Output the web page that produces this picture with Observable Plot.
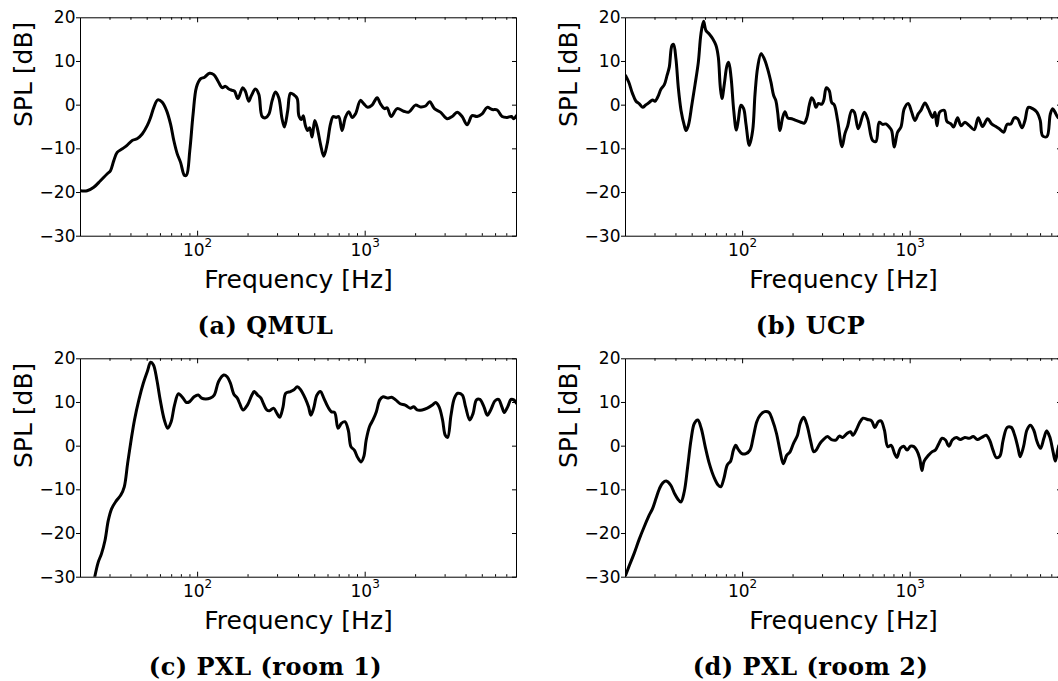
<!DOCTYPE html>
<html><head><meta charset="utf-8">
<script src="https://cdn.jsdelivr.net/npm/d3@7"></script>
<script src="https://cdn.jsdelivr.net/npm/@observablehq/plot@0.6"></script>
<style>
html,body{margin:0;padding:0;background:#fff;overflow:hidden;}
#root{position:relative;width:1058px;height:681px;overflow:hidden;background:#fff;}
.panel{position:absolute;width:530px;height:341px;}
.panel svg{max-width:none !important;width:530px;height:341px;display:block;}
</style></head><body><div id="root"></div>
<script>
// Frequency [Hz], SPL [dB]
const qmulResponse = [[20,-19.6],[21.9,-19.6],[24,-18.8],[26.3,-17.3],[28.9,-15.7],[30.2,-15.0],[31.6,-12.7],[33.1,-10.8],[35.5,-10.0],[37.9,-9.2],[40.7,-8.1],[43.5,-7.7],[46.7,-6.6],[50,-4.7],[52.4,-2.8],[54.8,-0.5],[57.8,1.2],[61.4,0.7],[65.2,-1.2],[68.9,-4.3],[72.1,-8.1],[75.5,-11.1],[79.1,-13.1],[83.5,-16.1],[85.9,-16.0],[89.8,-10.4],[94,-2.0],[98.4,4.1],[104,6.0],[110,6.4],[117.7,7.3],[124.8,7.0],[131.9,5.6],[140,4.0],[146.6,4.3],[153.5,3.7],[160.7,3.4],[166,3.2],[173.8,1.5],[185.9,4.0],[192.7,3.2],[201.9,0.9],[209.4,2.2],[221.4,3.7],[231.8,2.5],[242.7,-2.6],[254.3,-2.9],[266,-2.1],[278.6,1.1],[291.7,3.0],[305,1.7],[319,-3.1],[329.7,-5.0],[345,-1.2],[358,2.7],[375,2.4],[393,1.5],[402,-2.4],[417,-3.3],[427,-2.4],[440,-4.7],[454,-5.8],[467,-5.2],[482,-7.3],[500,-3.5],[516,-5.0],[541,-8.9],[566,-11.7],[593,-8.9],[621,-4.3],[644,-2.6],[671,-2.8],[695,-2.6],[728,-5.8],[762,-2.8],[798,-1.5],[836,-2.8],[875,-2.0],[937,1.1],[982,0.3],[1036,-0.5],[1099,0.0],[1178,1.7],[1234,0.3],[1303,-0.8],[1352,-0.6],[1429,-2.6],[1552,-0.8],[1700,-1.4],[1821,-1.6],[1995,0],[2138,-0.4],[2291,-0.2],[2427,0.8],[2589,-0.8],[2812,-1.6],[3084,-3.1],[3304,-2.6],[3540,-1.6],[3789,-2.6],[4058,-4.5],[4346,-2.4],[4657,-2.6],[4988,-2.0],[5345,-0.5],[5727,-1.0],[6128,-1.1],[6563,-2.6],[7032,-2.8],[7464,-2.6],[7693,-3.1],[8000,-2.4]];
const ucpResponse = [[20,6.8],[20.9,5.3],[22,2.7],[23.1,0.9],[24.2,0.3],[25.3,-0.5],[26.5,0.1],[27.7,0.6],[29,1.2],[30,0.9],[31.1,1.8],[32.6,3.7],[34.1,4.7],[35.4,6.8],[36.5,8.7],[37.9,13.7],[38.7,13.9],[40,10.6],[41.3,4.1],[42.9,-1.2],[44.9,-4.7],[45.9,-5.8],[47.4,-4.7],[49.7,-0.1],[52,4.7],[54.4,9.8],[56.4,16.3],[58.5,19.2],[60.4,17.1],[63.2,16.3],[66.3,15.2],[69.3,13.7],[71.6,11.0],[73.6,4.1],[75.3,1.5],[77.8,4.9],[80.7,9.1],[82.6,9.8],[85.3,6.4],[88.5,-1.2],[91.7,-5.7],[94.2,-3.5],[97.7,0.0],[101.4,-0.8],[104.7,-4.3],[109.6,-9.2],[114.8,-5.8],[118.6,2.6],[123,8.7],[128.8,11.8],[134.7,10.6],[141,8.3],[147.7,5.2],[153.2,2.2],[158,1.0],[161.8,-1.6],[167.1,-5.8],[173.4,-2.8],[179,-1.5],[185.8,-2.9],[196.4,-3.1],[208,-3.5],[222.9,-3.9],[233.4,-4.1],[242,-2.8],[250,0],[258.2,1.7],[265.5,1.1],[274.2,-0.5],[283.2,0.4],[296.6,0.2],[304.9,1.1],[316,4.0],[329,3.3],[340,0.6],[352,0.1],[369,-3.5],[392,-9.5],[408,-6.5],[424,-4.7],[448,-1.2],[464,-1.6],[490,-5.4],[532,-1.6],[557,-3.1],[597,-8.1],[625,-8.3],[654,-3.9],[684,-4.4],[716,-4.3],[750,-5.0],[775,-5.8],[803,-9.6],[841,-6.2],[881,-5.0],[922,-0.8],[973,0.4],[1019,-1.5],[1067,-3.5],[1117,-2.0],[1159,-1.2],[1225,0.5],[1283,-0.8],[1362,-2.8],[1406,-1.6],[1445,-4.7],[1500,-1.6],[1597,-1.2],[1656,-3.7],[1751,-4.3],[1816,-5.0],[1919,-2.9],[2010,-4.7],[2123,-3.9],[2254,-4.7],[2411,-5.6],[2548,-2.9],[2705,-4.9],[2897,-3.1],[3062,-4.3],[3251,-4.9],[3404,-5.4],[3615,-6.2],[3786,-4.4],[3990,-4.3],[4179,-2.9],[4376,-3.1],[4648,-5.2],[4843,-3.5],[5071,-0.5],[5383,-0.8],[5704,-1.6],[5971,-3.5],[6166,-7.0],[6546,-7.2],[6855,-2.1],[7080,-0.8],[7313,-1.6],[7619,-2.8],[8000,-3.2]];
const pxlRoom1Response = [[24.3,-30],[25.5,-26.6],[26.7,-24.6],[28,-21.6],[29.3,-17.0],[30.7,-14.3],[32.6,-12.6],[34.8,-11.2],[36.5,-9.3],[38.2,-4.0],[40.1,1.4],[42,6.0],[44.6,10.6],[47.4,14.4],[50.1,17.1],[52.5,19.2],[54.5,18.6],[57.1,15.2],[59.8,10.6],[63.3,6.0],[66.3,4.1],[69.5,5.6],[72.8,9.4],[76.9,12.0],[81.8,11.0],[85.7,10.0],[89.7,10.2],[95.3,11.3],[100.9,11.7],[105.7,11.0],[111.7,10.8],[118.8,11.0],[125.6,11.7],[133.4,14.8],[143.2,16.3],[150,15.9],[157,14.4],[164.5,11.9],[172.5,11.0],[178.2,9.8],[186.7,8.3],[198.2,9.4],[210.8,11.7],[217.7,12.5],[228,11.7],[238.9,11.0],[246.7,9.8],[258.5,8.3],[268.6,8.1],[284,8.7],[297.4,7.5],[308.8,6.6],[323.5,9.0],[335.7,12.1],[358.4,12.5],[375.7,12.9],[393.6,13.6],[412.2,12.9],[438.2,11.0],[459.1,9.0],[474.2,7.1],[492,8.6],[515.4,11.7],[540.4,12.5],[566.3,11.0],[598.8,9.0],[627.4,7.9],[657.2,7.7],[688.5,4.1],[721.3,5.2],[756.3,5.6],[792.5,3.7],[822,-0.1],[861,-0.9],[902,-2.6],[945.6,-3.6],[981,-2.4],[1014,1.4],[1062,4.5],[1113,6.0],[1166,7.9],[1222,10.6],[1280,11.3],[1361,11.0],[1439,11.2],[1521,10.6],[1617,9.7],[1734,9.4],[1858,8.7],[1948,9.0],[2042,8.3],[2188,8.3],[2349,8.7],[2518,9.4],[2637,10.0],[2762,9.0],[2896,6.0],[3006,2.5],[3105,2.0],[3252,7.1],[3409,11.0],[3572,12.1],[3795,11.7],[3975,9.0],[4206,6.0],[4406,7.5],[4616,10.6],[4836,10.7],[5115,9.0],[5358,7.1],[5613,8.3],[5963,10.4],[6246,10.7],[6544,9.0],[6761,7.7],[7083,9.0],[7420,10.7],[7702,10.6],[8000,9.8]];
const pxlRoom2Response = [[20,-29.6],[20.9,-27.7],[22.5,-24.6],[24.1,-21.4],[25.9,-18.4],[27.7,-15.8],[29,-14.3],[30.4,-12.0],[31.9,-9.7],[33.4,-8.4],[35,-8.0],[37.2,-8.9],[39.3,-10.9],[41.2,-12.2],[42.8,-12.8],[44.8,-10.5],[47,-4.7],[49.2,1.4],[51.5,5.2],[54,6.0],[56.6,4.1],[59.8,-0.1],[63.3,-4.0],[67.3,-7.0],[71.4,-8.9],[74.1,-9.3],[77.3,-7.4],[81,-4.3],[84.9,-3.4],[88.1,-0.9],[91,0.2],[94.4,-0.8],[99,-1.7],[104.7,-1.7],[110.7,-0.9],[115.9,2.2],[121.5,5.6],[127.3,7.1],[135.3,7.9],[143.8,7.7],[150.6,6.0],[159.3,2.9],[166.9,-0.9],[174.9,-4.0],[183.2,-2.1],[191.9,-1.3],[201,0.6],[212.6,2.5],[220.6,5.2],[231.2,6.6],[242.3,4.8],[253.9,1.4],[266,-1.3],[276.1,-0.8],[289.2,0.6],[303.3,1.5],[320.6,2.2],[339,1.5],[360.3,1.4],[377.6,2.3],[395.6,2.0],[419.9,2.9],[440.2,3.3],[455,2.5],[476.6,3.7],[499.4,5.4],[523.2,6.4],[556,6.1],[588,5.8],[615.8,4.3],[645.3,5.6],[669.6,5.8],[701.6,3.7],[735,-0.1],[770.2,0.2],[807,-1.7],[833.7,-2.6],[873.4,-0.5],[915.1,0.0],[958.7,-0.9],[1004.5,0.0],[1052.4,-0.1],[1092,-0.9],[1140,-2.8],[1175,-5.6],[1210,-3.5],[1286,-2.1],[1348,-1.3],[1412,-0.9],[1479,0.5],[1550,1.8],[1624,1.4],[1701,0.0],[1783,1.4],[1885,2.0],[1993,1.5],[2119,2.0],[2250,1.8],[2380,2.2],[2518,1.5],[2674,2.0],[2842,2.5],[2977,1.4],[3120,-0.9],[3267,-2.6],[3424,-2.3],[3588,1.4],[3795,4.3],[4011,4.3],[4205,2.5],[4406,-0.5],[4531,-2.4],[4747,-0.1],[4975,3.7],[5211,4.8],[5460,3.7],[5720,1.0],[5995,-0.5],[6280,1.8],[6518,3.5],[6797,2.2],[7125,-1.3],[7349,-3.4],[7634,-0.5],[7927,1.4],[8000,2.0]];

const captions = ["(a) QMUL", "(b) UCP", "(c) PXL (room 1)", "(d) PXL (room 2)"];
const freqDomain = [20, 8000];
const splDomain = [-30, 20];
const yTicks = [-30, -20, -10, 0, 10, 20];
const xMajorTicks = [100, 1000];
const xTickBase = "10";
const xTickExponents = ["2", "3"];
const xMinorTicks = [30,40,50,60,70,80,90,200,300,400,500,600,700,800,900,2000,3000,4000,5000,6000,7000];
const xLabel = "Frequency [Hz]";
const yLabel = "SPL [dB]";

const series = [qmulResponse, ucpResponse, pxlRoom1Response, pxlRoom2Response];
const slots = [{left:0, top:0}, {left:544.5, top:0}, {left:0, top:341}, {left:544.5, top:341}];

const W = 530, H = 341, mL = 80, mR = 14, mT = 17.3, frameH = 218.4;
const mB = H - mT - frameH, frameW = W - mL - mR;
const root = document.getElementById("root");
const fmtY = d => d < 0 ? "\u2212" + (-d) : String(d);
const fmtX = d => xTickBase + "^" + xTickExponents[xMajorTicks.indexOf(d)];

series.forEach((data, i) => {
  const svg = Plot.plot({
    width: W, height: H,
    marginLeft: mL, marginRight: mR, marginTop: mT, marginBottom: mB,
    style: {fontFamily: "DejaVu Sans", color: "black", background: "white", maxWidth: "none"},
    x: {type: "log", domain: freqDomain},
    y: {domain: splDomain},
    marks: [
      Plot.frame({stroke: "black", strokeWidth: 1}),
      Plot.tickX(xMinorTicks, {x: d => d, insetTop: frameH - 2.5, stroke: "black"}),
      Plot.tickX(xMinorTicks, {x: d => d, insetBottom: frameH - 2.5, stroke: "black"}),
      Plot.tickX(xMajorTicks, {x: d => d, insetTop: frameH - 5, stroke: "black"}),
      Plot.tickX(xMajorTicks, {x: d => d, insetBottom: frameH - 5, stroke: "black"}),
      Plot.tickY(yTicks, {y: d => d, insetLeft: frameW - 4, stroke: "black"}),
      Plot.axisY(yTicks, {tickSize: 4, tickPadding: 1, tickFormat: fmtY, fontSize: 17, label: null}),
      Plot.axisX(xMajorTicks, {tickSize: 0, tickPadding: 7.5, tickFormat: fmtX, fontSize: 17, label: null}),
      Plot.line(data, {x: d => d[0], y: d => d[1], stroke: "black", strokeWidth: 3, curve: "catmull-rom", clip: true}),
      Plot.text([xLabel], {text: d => d, frameAnchor: "bottom", dy: 51.3, lineAnchor: "bottom", fontSize: 25}),
      Plot.text([yLabel], {text: d => d, frameAnchor: "left", dx: -57, rotate: -90, lineAnchor: "middle", fontSize: 25}),
      Plot.text([captions[i]], {text: d => d, frameAnchor: "bottom", dx: -33, dy: 97.3, lineAnchor: "bottom", fontSize: 24, fontWeight: "bold", fontFamily: "DejaVu Serif"})
    ]
  });
  svg.querySelectorAll("text").forEach(t => {
    const s = t.textContent;
    if (s.startsWith("(")) t.setAttribute("letter-spacing", "0.5");
    if (s.includes("^")) {
      const [base, exp] = s.split("^");
      t.textContent = base;
      const sup = document.createElementNS("http://www.w3.org/2000/svg", "tspan");
      sup.setAttribute("dy", "-9");
      sup.setAttribute("font-size", "12");
      sup.textContent = exp;
      t.appendChild(sup);
    }
  });
  const wrap = document.createElement("div");
  wrap.className = "panel";
  wrap.style.left = slots[i].left + "px";
  wrap.style.top = slots[i].top + "px";
  wrap.appendChild(svg);
  root.appendChild(wrap);
});
</script></body></html>
